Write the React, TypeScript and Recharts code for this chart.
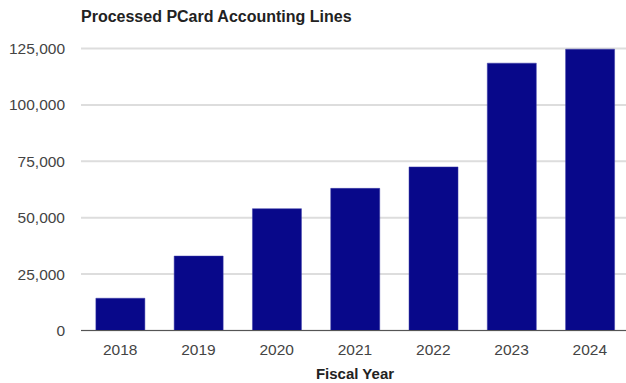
import React from 'react';
import { BarChart, Bar, XAxis, YAxis, CartesianGrid } from 'recharts';

const years = ['2018', '2019', '2020', '2021', '2022', '2023', '2024'];
const lines = [14300, 33000, 54000, 63000, 72500, 118500, 124700];
const yTicks = [0, 25000, 50000, 75000, 100000, 125000];

const data = years.map((year, i) => ({ year, lines: lines[i] }));

const font = '"Liberation Sans", Arial, sans-serif';

const App = () => {
  return (
    <div style={{ position: 'absolute', left: 0, top: 0, width: 626, height: 383, background: '#fff', fontFamily: font, overflow: 'hidden' }}>
      <div
        style={{
          position: 'absolute',
          left: 81,
          top: 8,
          fontSize: 16,
          fontWeight: 'bold',
          color: '#222',
          whiteSpace: 'nowrap',
        }}
      >
        Processed PCard Accounting Lines
      </div>
      <BarChart
        width={626}
        height={383}
        data={data}
        margin={{ top: 48.5, right: -3, left: 0, bottom: 0 }}
        barCategoryGap="19%"
      >
        <CartesianGrid vertical={false} stroke="#dddddd" strokeWidth={2} />
        <XAxis
          dataKey="year"
          height={52.5}
          tickLine={false}
          tickSize={0}
          tickMargin={13}
          stroke="#555"
          tick={{ fill: '#444', fontSize: 15.5, fontFamily: font }}
          label={{
            value: 'Fiscal Year',
            position: 'insideBottom',
            offset: 4,
            fill: '#222',
            fontSize: 15,
            fontWeight: 'bold',
            fontFamily: font,
          }}
        />
        <YAxis
          width={81}
          domain={[0, 125000]}
          ticks={yTicks}
          axisLine={false}
          tickLine={false}
          tickSize={0}
          tickMargin={16}
          tick={{ fill: '#444', fontSize: 15.5, fontFamily: font }}
          tickFormatter={(v: number) => v.toLocaleString('en-US')}
        />
        <Bar dataKey="lines" fill="#08088a" stroke="#3a3aa8" strokeWidth={0.5} isAnimationActive={false} />
      </BarChart>
    </div>
  );
};

export default App;
